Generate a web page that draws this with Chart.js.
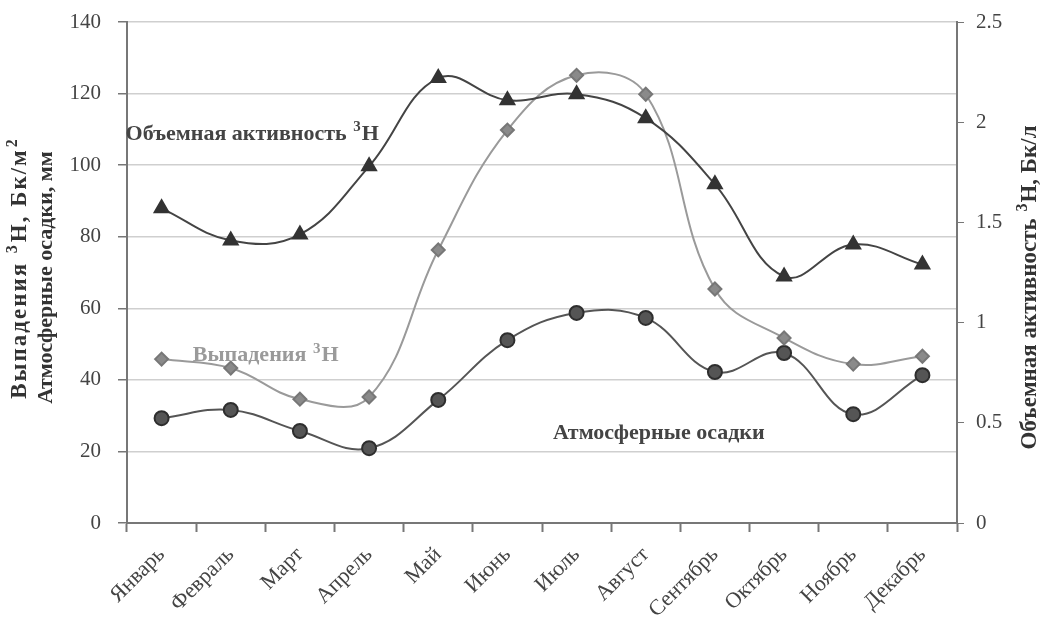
<!DOCTYPE html>
<html><head><meta charset="utf-8">
<script src="https://cdn.jsdelivr.net/npm/chart.js@4/dist/chart.umd.min.js"></script>
<style>html,body{margin:0;padding:0;background:#fff}#wrap{width:1043px;height:623px}</style>
</head><body><div id="wrap"><canvas id="c" width="1043" height="623"></canvas></div>
<script>
const months = ['Январь','Февраль','Март','Апрель','Май','Июнь','Июль','Август','Сентябрь','Октябрь','Ноябрь','Декабрь'];
const activity = [1.57,1.41,1.44,1.78,2.22,2.11,2.14,2.02,1.69,1.23,1.39,1.29];
const deposition = [45.8,43.3,34.6,35.2,76.3,109.8,125.1,119.8,65.4,51.7,44.4,46.6];
const precip = [29.3,31.6,25.7,20.9,34.4,51.1,58.7,57.3,42.2,47.5,30.4,41.3];
const leftTicks = [0,20,40,60,80,100,120,140];
const rightTicks = [0,0.5,1,1.5,2,2.5];
// text segments: [text, isSuperscript]
const leftTitle1 = [['Выпадения ',0],['3',1],['H, Бк/м',0],['2',1]];
const leftTitle2 = [['Атмосферные осадки, мм',0]];
const rightTitle = [['Объемная активность ',0],['3',1],['H, Бк/л',0]];
const notes = [
  {parts:[['Объемная активность ',0],['3',1],['H',0]], x:-0.52, y:108.7, color:'#444'},
  {parts:[['Выпадения ',0],['3',1],['H',0]], x:0.45, y:46.8, color:'#9a9a9a'},
  {parts:[['Атмосферные осадки',0]], x:5.66, y:25.2, color:'#444'}
];
const serif = '"Liberation Serif","DejaVu Serif",serif';

function partFont(size, s){ return 'bold ' + (s ? Math.round(size*0.7) : size) + 'px ' + serif; }
function richWidth(ctx, parts, size){
  let w = 0;
  parts.forEach(([t,s])=>{ ctx.font = partFont(size, s); w += ctx.measureText(t).width + (s?2:0); });
  return w;
}
function drawRich(ctx, parts, size, x, y, align){
  const w = richWidth(ctx, parts, size);
  let cx = align === 'center' ? x - w/2 : x;
  ctx.textAlign = 'left'; ctx.textBaseline = 'middle';
  parts.forEach(([t,s])=>{
    ctx.font = partFont(size, s);
    ctx.fillText(t, cx + (s?1:0), s ? y - size*0.3 : y);
    cx += ctx.measureText(t).width + (s?2:0);
  });
}

const notesPlugin = {
  id:'notes',
  afterDatasetsDraw(chart){
    const ctx = chart.ctx, xs = chart.scales.x, ys = chart.scales.y;
    ctx.save();
    notes.forEach(n=>{
      ctx.fillStyle = n.color;
      drawRich(ctx, n.parts, 22, xs.getPixelForValue(n.x), ys.getPixelForValue(n.y), 'left');
    });
    ctx.restore();
  },
  afterDraw(chart){
    const ctx = chart.ctx, a = chart.chartArea;
    const mid = (a.top + a.bottom) / 2;
    ctx.save();
    ctx.fillStyle = '#333';
    ctx.save(); ctx.translate(20, mid - 5); ctx.rotate(-Math.PI/2);
    if ('letterSpacing' in ctx) ctx.letterSpacing = '2px';
    drawRich(ctx, leftTitle1, 23, 0, 0, 'center'); ctx.restore();
    ctx.save(); ctx.translate(46, mid + 5); ctx.rotate(-Math.PI/2);
    drawRich(ctx, leftTitle2, 22, 0, 0, 'center'); ctx.restore();
    ctx.save(); ctx.translate(1030, mid + 15); ctx.rotate(-Math.PI/2);
    drawRich(ctx, rightTitle, 23, 0, 0, 'center'); ctx.restore();
    ctx.restore();
  }
};

new Chart(document.getElementById('c'), {
  type:'line',
  data:{
    labels: months,
    datasets:[
      {label:'Объемная активность', data:activity, yAxisID:'y1', borderColor:'#444', borderWidth:2,
       pointStyle:'triangle', pointRadius:8, pointBackgroundColor:'#333', pointBorderColor:'#333', tension:0.4},
      {label:'Выпадения', data:deposition, yAxisID:'y', borderColor:'#9a9a9a', borderWidth:2,
       pointStyle:'rectRot', pointRadius:6.5, pointBackgroundColor:'#8a8a8a', pointBorderColor:'#777', tension:0.4},
      {label:'Атмосферные осадки', data:precip, yAxisID:'y', borderColor:'#555', borderWidth:2,
       pointStyle:'circle', pointRadius:7, pointBackgroundColor:'#555', pointBorderColor:'#2e2e2e', pointBorderWidth:2, tension:0.4}
    ]
  },
  options:{
    responsive:false, animation:false,
    layout:{autoPadding:false, padding:{top:22,left:0,right:0,bottom:0}},
    plugins:{legend:{display:false}, tooltip:{enabled:false}},
    scales:{
      x:{offset:true,
         afterFit(s){ s.height = 100; },
         grid:{offset:true, drawOnChartArea:false, color:'#777', tickLength:9, tickWidth:2},
         border:{color:'#777', width:2},
         ticks:{maxRotation:45, minRotation:45, color:'#444', font:{family:serif, size:22}, padding:10}},
      y:{position:'left', min:0, max:140,
         afterBuildTicks(s){ s.ticks = leftTicks.map(v=>({value:v})); },
         afterFit(s){ s.width = 127; s.paddingTop = 0; },
         grid:{color:'#cfcfcf', lineWidth:1.5, tickLength:9, tickColor:'#777'},
         border:{color:'#777', width:2},
         ticks:{color:'#444', font:{family:serif, size:21}, padding:17}},
      y1:{position:'right', min:0, max:2.5,
         afterBuildTicks(s){ s.ticks = rightTicks.map(v=>({value:v})); },
         afterFit(s){ s.width = 86; s.paddingTop = 0; },
         grid:{drawOnChartArea:false, tickLength:7, color:'#777'},
         border:{color:'#777', width:2},
         ticks:{color:'#444', font:{family:serif, size:21}, padding:12, callback:(v)=>String(v)}}
    }
  },
  plugins:[notesPlugin]
});
</script></body></html>
